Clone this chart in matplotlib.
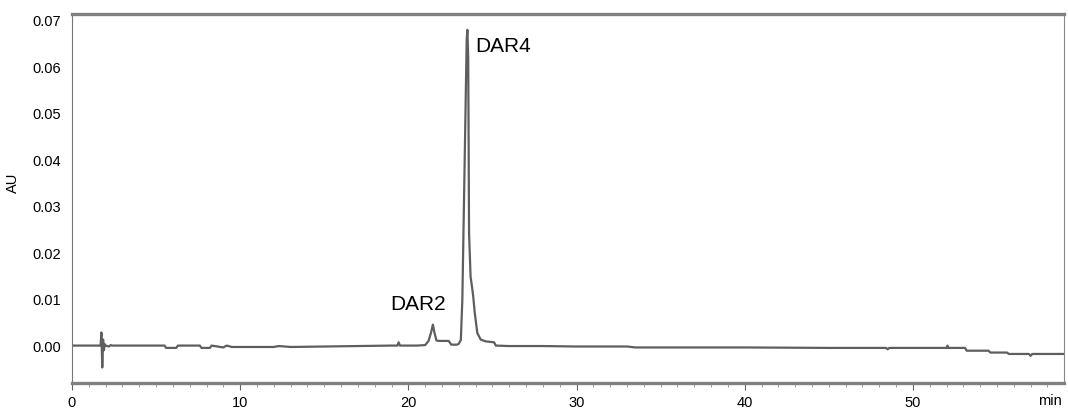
import numpy as np
import matplotlib.pyplot as plt

plt.rcParams['font.family'] = ['Liberation Sans', 'DejaVu Sans']

# retention time (min) and absorbance (AU)
t = [0.0, 0.5, 1.0, 1.5, 1.7, 1.75, 1.8, 1.85, 1.9, 1.95, 2.0, 2.2, 2.3, 2.4, 3.0,
     4.0, 5.5, 5.6, 6.2, 6.3, 7.6, 7.7, 8.2, 8.3, 9.0, 9.2, 9.5, 10.0, 11.0,
     12.0, 12.3, 13.0, 15.0, 17.0, 19.0, 19.35, 19.42, 19.5, 20.5, 21.0,
     21.2, 21.35, 21.46, 21.55, 21.67, 21.8, 22.4, 22.55, 22.9, 23.0, 23.12,
     23.21, 23.31, 23.41, 23.47, 23.51, 23.56, 23.61, 23.7, 23.77, 23.85,
     23.95, 24.1, 24.3, 24.6, 25.1, 25.2, 26.0, 28.0, 30.0, 33.0, 33.5,
     35.0, 37.0, 40.0, 45.0, 48.4, 48.5, 48.6, 50.0, 52.0, 52.06, 52.1,
     53.1, 53.2, 54.5, 54.6, 55.6, 55.7, 56.9, 57.0, 57.1, 59.0]
au = [0.0002, 0.0002, 0.0002, 0.0002, 0.0002, 0.0030, -0.0045, 0.0015, -0.0008,
      0.0005, 0.0002, 0.0000, 0.0003, 0.0002, 0.0002,
      0.0002, 0.0002, -0.0003, -0.0003, 0.0002, 0.0002, -0.0003, -0.0003,
      0.0002, -0.0002, 0.0002, -0.0001, -0.0001, -0.0001,
      -0.0001, 0.0001, -0.0001, 0.0000, 0.0001, 0.0002, 0.0002, 0.0009,
      0.0002, 0.0002, 0.0003,
      0.0012, 0.0030, 0.0047, 0.0030, 0.0013, 0.0012, 0.0012, 0.0004, 0.0004,
      0.0006, 0.0014,
      0.0100, 0.0315, 0.0530, 0.0660, 0.0680, 0.0620, 0.0244, 0.0150, 0.0132,
      0.0110,
      0.0072, 0.0029, 0.0015, 0.0011, 0.0009, 0.0002, 0.0001, 0.0001, 0.0000,
      0.0000, -0.0002,
      -0.0002, -0.0002, -0.0002, -0.0003, -0.0003, -0.0006, -0.0003, -0.0003,
      -0.0003, 0.0002, -0.0003,
      -0.0003, -0.0009, -0.0009, -0.0013, -0.0013, -0.0016, -0.0016, -0.0020,
      -0.0016, -0.0016]

yticks = [0.00, 0.01, 0.02, 0.03, 0.04, 0.05, 0.06, 0.07]
xticks = [0, 10, 20, 30, 40, 50]

fig = plt.figure(figsize=(10.68, 4.11), dpi=100)
ax = fig.add_axes([0.0674, 0.0674, 0.9291, 0.8985])

ax.plot(t, au, color='#5e5e5e', lw=1.6)

ax.set_xlim(0, 59)
ax.set_ylim(-0.0079, 0.0714)
ax.set_yticks(yticks)
ax.set_yticklabels(['%.2f' % v for v in yticks])
ax.set_xticks(xticks)
ax.set_xticks(np.arange(0, 59, 1), minor=True)

ax.tick_params(axis='y', length=0, pad=8, labelsize=10.5)
ax.tick_params(axis='x', which='major', length=5, width=0.8, color='#666666',
               pad=4, labelsize=10.5)
ax.tick_params(axis='x', which='minor', length=3, width=0.6, color='#888888')

for side in ['top', 'bottom']:
    ax.spines[side].set_color('#808080')
    ax.spines[side].set_linewidth(2.4)
ax.spines['left'].set_color('#777777')
ax.spines['left'].set_linewidth(0.8)
ax.spines['left'].set_linestyle((0, (3, 1)))
ax.spines['right'].set_color('#888888')
ax.spines['right'].set_linewidth(0.8)

ax.set_ylabel('AU', fontsize=10.5)
ax.yaxis.set_label_coords(-0.052, 0.542)

ax.text(0.998, -0.048, 'min', transform=ax.transAxes, ha='right', va='center',
        fontsize=10.5)

ax.text(20.55, 0.00895, 'DAR2', ha='center', va='center', fontsize=15)
ax.text(25.63, 0.0644, 'DAR4', ha='center', va='center', fontsize=15)

fig.savefig('out.png', dpi=100)
